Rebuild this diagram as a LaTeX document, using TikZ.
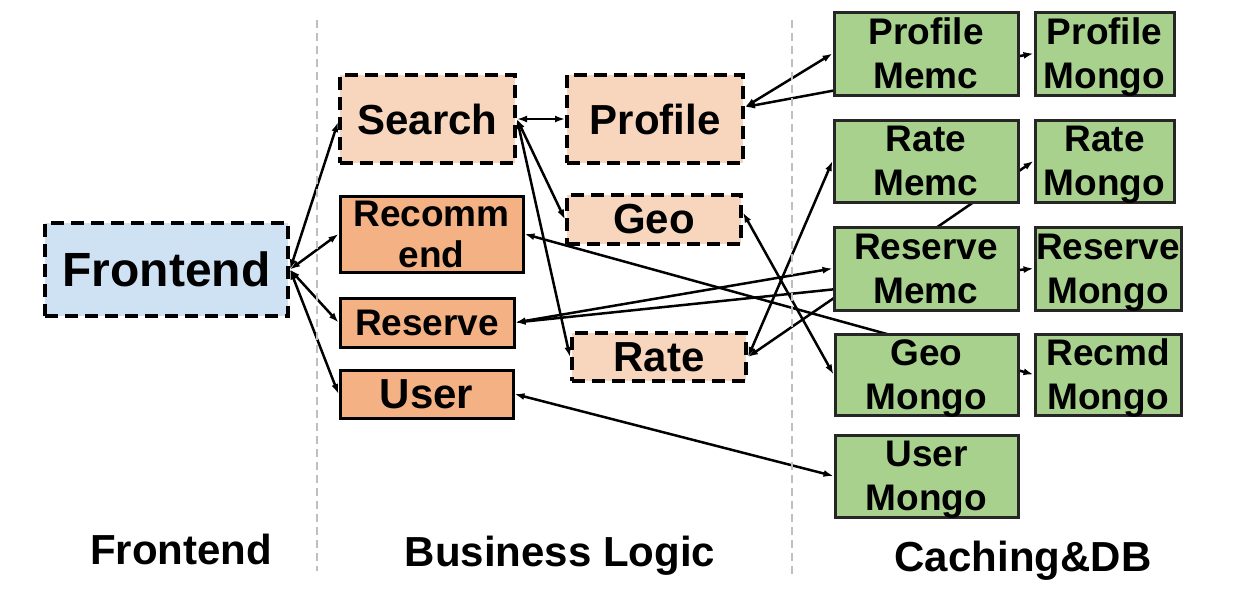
\documentclass[tikz,border=0pt]{standalone}
\usepackage{fontspec}
\setmainfont{Liberation Sans}
\usetikzlibrary{arrows.meta,calc}
\pgfdeclarelayer{bg}
\pgfsetlayers{bg,main}
\definecolor{feblue}{HTML}{CFE2F3}
\definecolor{peach}{HTML}{F8D5BD}
\definecolor{orng}{HTML}{F4B183}
\definecolor{grn}{HTML}{A9D18E}
\definecolor{sepgray}{HTML}{BFBFBF}
\tikzset{
  sz/.style 2 args={minimum width=#1pt, minimum height=#2pt},
  box/.style={draw=black, inner sep=0pt, align=center, font=\bfseries\fontsize{37}{44}\selectfont},
  dbox/.style={box, line width=4pt, dash pattern=on 13pt off 7pt, fill=peach, font=\bfseries\fontsize{42}{48}\selectfont},
  obox/.style={box, line width=3pt, fill=orng},
  gbox/.style={box, line width=3pt, fill=grn, draw=black!85, text depth=0pt},
  conn/.style={line width=2.5pt, {Latex[length=10pt,width=7pt]}-{Latex[length=10pt,width=7pt]}},
  sepline/.style={draw=sepgray, line width=2pt, dash pattern=on 8pt off 5pt},
  lbl/.style={font=\bfseries\fontsize{42}{48}\selectfont, anchor=base, inner sep=0pt},
}
\begin{document}
\begin{tikzpicture}[x=1pt, y=-1pt]
\useasboundingbox (0,0) rectangle (1236,611);

% separators
\coordinate (s1t) at (317,20);
\coordinate (s1b) at (317,571);
\coordinate (s2t) at (792,20);
\coordinate (s2b) at (792,576);
\draw[sepline] (s1t) -- (s1b);
\draw[sepline] (s2t) -- (s2b);

% frontend
\node[dbox, fill=feblue, sz={243}{93}, font=\bfseries\fontsize{48}{54}\selectfont] (fe) at (166.5,269.5) {Frontend};

% business logic
\node[dbox, sz={175}{88}] (search) at (427.5,119) {Search};
\node[obox, sz={183}{76}, font=\bfseries\fontsize{37}{41}\selectfont] (rec) at (431.5,234) {Recomm\\{}end};
\node[obox, sz={174}{49}] (res) at (427,322.5) {Reserve};
\node[obox, sz={173}{48}, font=\bfseries\fontsize{42}{48}\selectfont] (user) at (426.5,394) {User};
\node[dbox, sz={176}{88}] (prof) at (655,119) {Profile};
\node[dbox, sz={174}{49}] (geo) at (654,219.5) {Geo};
\node[dbox, sz={174}{48}] (rate) at (659,357) {Rate};

% caching & db
\node[gbox, sz={184}{83}] (pmemc) at (926,53.5) {Profile\\Memc};
\node[gbox, sz={139}{83}] (pmongo) at (1104.5,53.5) {Profile\\Mongo};
\node[gbox, sz={184}{82}] (rmemc) at (926,161) {Rate\\Memc};
\node[gbox, sz={139}{82}] (rmongo) at (1104.5,161) {Rate\\Mongo};
\node[gbox, sz={184}{83}] (resmemc) at (926,268.5) {Reserve\\Memc};
\node[gbox, sz={146}{83}] (resmongo) at (1108,268.5) {Reserve\\Mongo};
\node[gbox, sz={183}{81}] (gmongo) at (926.5,374.5) {Geo\\Mongo};
\node[gbox, sz={146}{81}] (recmongo) at (1108,374.5) {Recmd\\Mongo};
\node[gbox, sz={183}{82}] (umongo) at (926.5,476) {User\\Mongo};

% connectors (behind boxes)
\begin{pgfonlayer}{bg}
\draw[conn] (fe.east) -- ([yshift=-3pt]search.west);
\draw[conn] (fe.east) -- (rec.west);
\draw[conn] (fe.east) -- (res.west);
\draw[conn] (fe.east) -- (user.west);
\draw[conn] (search.east) -- (prof.west);
\draw[conn] (search.east) -- (geo.west);
\draw[conn] (search.east) -- (rate.west);
\draw[conn] ([yshift=12pt]prof.east) -- (pmemc.west);
\draw[conn] ([yshift=12pt]prof.east) -- (pmongo.west);
\draw[conn] (rate.east) -- (rmemc.west);
\draw[conn] (rate.east) -- (rmongo.west);
\draw[conn] (res.east) -- (resmemc.west);
\draw[conn] (res.east) -- (resmongo.west);
\draw[conn] ([yshift=7pt]geo.east) -- (gmongo.west);
\draw[conn] (rec.east) -- (recmongo.west);
\draw[conn] (user.east) -- (umongo.west);
\end{pgfonlayer}

% tier labels
\node[lbl] (l1) at (181,564) {Frontend};
\node[lbl] (l2) at (560,566) {Business Logic};
\node[lbl] (l3) at (1023,571) {Caching\&DB};
\end{tikzpicture}
\end{document}
